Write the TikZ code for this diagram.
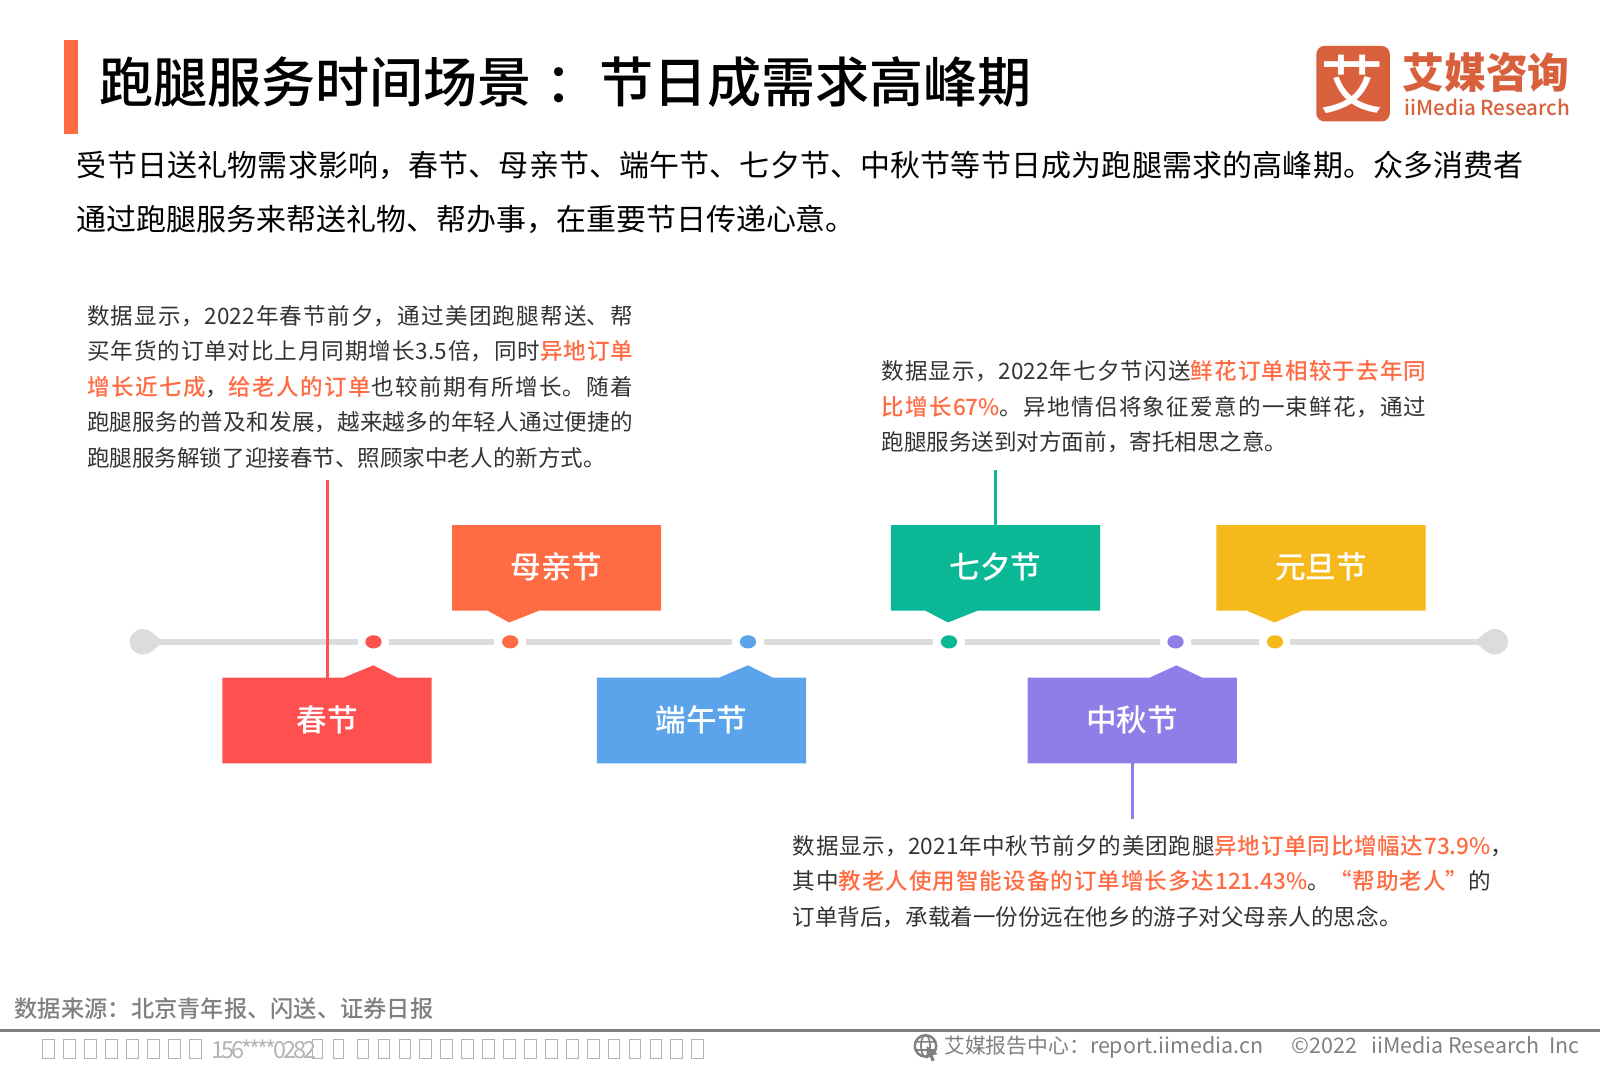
\documentclass[tikz,border=0pt]{standalone}
\usepackage{fontspec}
\setmainfont{Noto Sans CJK SC}
\newfontfamily\cjkmed{Noto Sans CJK SC Medium}
\XeTeXlinebreaklocale "zh"
\XeTeXlinebreakskip=0pt plus 2pt
\definecolor{cRed}{HTML}{FF5050}
\definecolor{cOrange}{HTML}{FF6B42}
\definecolor{cBlue}{HTML}{5BA3EA}
\definecolor{cGreen}{HTML}{0AB896}
\definecolor{cPurple}{HTML}{8F7EE8}
\definecolor{cYellow}{HTML}{F5B91B}
\definecolor{cLine}{HTML}{DCDCDC}
\definecolor{cText}{HTML}{333333}
\definecolor{cFoot}{HTML}{808080}
\definecolor{cTofu}{HTML}{B4B4B4}
\definecolor{cLogo}{HTML}{D9603C}
\newcommand{\hl}[1]{\textcolor{cOrange}{\cjkmed #1}}
\usetikzlibrary{shapes.geometric}
\tikzset{
  label box/.style={draw=none,inner sep=0pt,minimum width=102.5pt,minimum height=42pt,text=white,font=\fontsize{15}{18}\cjkmed},
  para/.style={anchor=north west,align=justify,inner sep=0pt,text=cText,font=\fontsize{11.05}{17.35}\selectfont},
  dot/.style={ellipse,minimum width=8pt,minimum height=6.5pt,inner sep=0pt},
  spine/.style={cLine,line width=2.75pt},
  leader/.style={line width=1.5pt},
  tofu/.style={draw=cTofu,line width=0.45pt},
}
\begin{document}
\begin{tikzpicture}[x=0.5pt,y=-0.5pt]
\useasboundingbox (0,0) rectangle (1568,1044.68);
\fill[white] (0,0) rectangle (1568,1044.68);
% header
\fill[cOrange] (63,39) rectangle (76,131);
\node[anchor=west,inner sep=0pt,text=black,font=\fontsize{26.5}{30}\cjkmed] (title) at (97,80) {跑腿服务时间场景\hspace{6.5pt}：节日成需求高峰期};
% logo
\fill[cLogo,rounded corners=4pt] (1290,45) rectangle (1362,119);
\node[text=white,inner sep=0pt,font=\fontsize{31}{36}\cjkmed] (logoa) at (1325,83) {艾};
\node[anchor=base west,inner sep=0pt,text depth=0pt,text=cLogo,font=\fontsize{20.5}{24}\selectfont\bfseries] (logob) at (1374,87) {艾媒咨询};
\node[anchor=base west,inner sep=0pt,text depth=0pt,text height=8pt,text=cLogo,font=\fontsize{10.1}{14}\cjkmed] (logoc) at (1376,113) {iiMedia Research};
% intro
\node[anchor=north west,align=justify,text width=709pt,inner sep=0pt,text=black,font=\fontsize{14.68}{26.5}\selectfont] (intro) at (75,148) {受节日送礼物需求影响，春节、母亲节、端午节、七夕节、中秋节等节日成为跑腿需求的高峰期。众多消费者\linebreak 通过跑腿服务来帮送礼物、帮办事，在重要节日传递心意。};
% paragraphs
\node[para,text width=267.5pt] (p1) at (85,299) {数据显示，2022年春节前夕，通过美团跑腿帮送、帮\linebreak 买年货的订单对比上月同期增长3.5倍，同时\hl{异地订单}\linebreak \hl{增长近七成}，\hl{给老人的订单}也较前期有所增长。随着\linebreak 跑腿服务的普及和发展，越来越多的年轻人通过便捷的\linebreak 跑腿服务解锁了迎接春节、照顾家中老人的新方式。};
\node[para,text width=267pt] (p2) at (863.5,353) {数据显示，2022年七夕节闪送\hl{鲜花订单相较于去年同}\linebreak \hl{比增长67\%}。异地情侣将象征爱意的一束鲜花，通过\linebreak 跑腿服务送到对方面前，寄托相思之意。};
\node[para,text width=342pt] (p3) at (776.5,818) {数据显示，2021年中秋节前夕的美团跑腿\hl{异地订单同比增幅达73.9\%}\rlap{，}\linebreak 其中\hl{教老人使用智能设备的订单增长多达121.43\%}。\hl{“帮助老人”}的\linebreak 订单背后，承载着一份份远在他乡的游子对父母亲人的思念。};
% spine
\coordinate (sl) at (140,629);
\coordinate (sr) at (1465,629);
\draw[spine] (sl) -- (sr);
\fill[cLine] (140,629) ellipse (13 and 12.5);
\fill[cLine] (1465,629) ellipse (13 and 12.5);
\fill[cLine] (148,619) -- (157,626.5) -- (157,631.5) -- (148,639) -- cycle;
\fill[cLine] (1457,619) -- (1448,626.5) -- (1448,631.5) -- (1457,639) -- cycle;
% white gaps and dots
\foreach \x in {366,500,733,930,1152,1249} \fill[white] (\x-15.5,625) rectangle (\x+15.5,633);
\node[dot,fill=cRed] (d1) at (366,629) {};
\node[dot,fill=cOrange] (d2) at (500,629) {};
\node[dot,fill=cBlue] (d3) at (733,629) {};
\node[dot,fill=cGreen] (d4) at (930,629) {};
\node[dot,fill=cPurple] (d5) at (1152,629) {};
\node[dot,fill=cYellow] (d6) at (1249.5,629) {};
% boxes
\fill[cRed] (218,748) -- (218,664) -- (337,664) -- (366,652) -- (389,664) -- (423,664) -- (423,748) -- cycle;
\fill[cOrange] (443,514.5) -- (648,514.5) -- (648,598.5) -- (528,598.5) -- (499,610) -- (478,598.5) -- (443,598.5) -- cycle;
\fill[cBlue] (585,748) -- (585,664) -- (705,664) -- (733,652) -- (757,664) -- (790,664) -- (790,748) -- cycle;
\fill[cGreen] (873,514.5) -- (1078,514.5) -- (1078,598.5) -- (958,598.5) -- (929,610) -- (907,598.5) -- (873,598.5) -- cycle;
\fill[cPurple] (1007,748) -- (1007,664) -- (1127,664) -- (1153,652) -- (1178,664) -- (1212,664) -- (1212,748) -- cycle;
\fill[cYellow] (1192,514.5) -- (1397,514.5) -- (1397,598.5) -- (1276,598.5) -- (1249,610) -- (1222,598.5) -- (1192,598.5) -- cycle;
\node[label box] (b1) at (320.5,705) {春节};
\node[label box] (b2) at (545.5,555.5) {母亲节};
\node[label box] (b3) at (687.5,705) {端午节};
\node[label box] (b4) at (975.5,555.5) {七夕节};
\node[label box] (b5) at (1109.5,705) {中秋节};
\node[label box] (b6) at (1294.5,555.5) {元旦节};
% leaders
\coordinate (t1) at (321,470);
\coordinate (t4) at (975.5,461);
\coordinate (t5) at (1109.5,803);
\draw[leader,cRed] (t1) -- (321,664);
\draw[leader,cGreen] (t4) -- (975.5,514.5);
\draw[leader,cPurple] (t5) -- (1109.5,748);
% footer
\node[anchor=west,inner sep=0pt,text=cFoot,font=\fontsize{11.4}{14}\cjkmed] (src) at (14,988) {数据来源：北京青年报、闪送、证券日报};
\fill[cFoot] (0,1008) rectangle (1568,1011);
\foreach \x in {0,...,7} \draw[tofu] (42+\x*20.5,1019) rectangle +(11.5,18);
\node[anchor=west,inner sep=0pt,text=cTofu,font=\fontsize{11.5}{14}\selectfont] (wm) at (207,1028) {\addfontfeature{LetterSpace=-13}156****0282};
\draw[tofu] (306,1019) rectangle +(10,18);
\draw[tofu] (327,1019) rectangle +(10,18);
\foreach \x in {0,...,16} \draw[tofu] (350+\x*20.5,1019) rectangle +(11.5,18);
\node[anchor=west,inner sep=0pt,text=cFoot,font=\fontsize{10.5}{14}\selectfont] (rep) at (925,1026) {{\fontsize{10.2}{14}\selectfont 艾媒报告中心：}report.iimedia.cn\hspace{14pt}©2022\hspace{7pt}iiMedia Research\hspace{5pt}Inc};
\draw[cFoot,line width=1.2pt] (907,1025) circle (10.5);
\draw[cFoot,line width=0.8pt] (907,1025) ellipse (4.5 and 10.5) (897,1021) -- (917,1021) (897,1029) -- (917,1029);
\fill[cFoot] (908,1025) -- (919,1033) -- (914,1034) -- (916,1039) -- (913,1040) -- (911,1035) -- (908,1038) -- cycle;
\end{tikzpicture}
\end{document}
